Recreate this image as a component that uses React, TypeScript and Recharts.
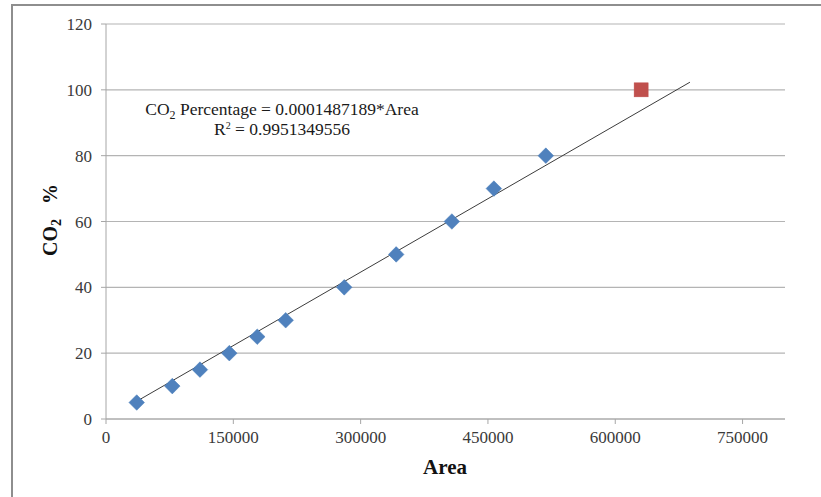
import React from "react";
import {
  ScatterChart,
  Scatter,
  XAxis,
  YAxis,
  CartesianGrid,
  ReferenceLine,
} from "recharts";

// Calibration samples: peak area vs CO2 percentage
const areaValues = [36200, 78100, 110700, 145300, 178200, 211700, 280700, 341900, 407500, 457000, 518200];
const co2Values = [5, 10, 15, 20, 25, 30, 40, 50, 60, 70, 80];

// Single check sample
const checkArea = [630500];
const checkCo2 = [100];

// Regression through origin
const slope = 0.0001487189;
const rSquared = "0.9951349556";
const trendRange = [36200, 688000];

const xTicks = [0, 150000, 300000, 450000, 600000, 750000];
const yTicks = [0, 20, 40, 60, 80, 100, 120];

const calibration = areaValues.map((a, i) => ({ area: a, co2: co2Values[i] }));
const check = checkArea.map((a, i) => ({ area: a, co2: checkCo2[i] }));

const FONT = "'Liberation Serif', 'Times New Roman', serif";

const Diamond = (props: any) => {
  const { cx, cy } = props;
  const r = 7.8;
  return (
    <polygon
      points={`${cx},${cy - r} ${cx + r},${cy} ${cx},${cy + r} ${cx - r},${cy}`}
      fill="#4F81BD"
      stroke="#4A7EBB"
      strokeWidth={0.5}
    />
  );
};

const Square = (props: any) => {
  const { cx, cy } = props;
  const h = 7;
  return <rect x={cx - h} y={cy - h} width={2 * h} height={2 * h} fill="#C0504D" stroke="#BE4B48" strokeWidth={0.5} />;
};

const XTick = (props: any) => {
  const { x, y, payload } = props;
  return (
    <text x={x} y={y + 13} textAnchor="middle" fontFamily={FONT} fontSize={17} fill="#3a3a3a">
      {payload.value}
    </text>
  );
};

const YTick = (props: any) => {
  const { x, y, payload } = props;
  return (
    <text x={x} y={y + 6} textAnchor="end" fontFamily={FONT} fontSize={17} fill="#3a3a3a">
      {payload.value}
    </text>
  );
};

export default function App() {
  return (
    <div style={{ position: "absolute", left: 0, top: 0, width: 821, height: 497, background: "#fff" }}>
      <div
        style={{
          position: "absolute",
          left: 11,
          top: 4,
          width: 810,
          height: 493,
          borderTop: "2px solid #8e8e8e",
          borderLeft: "2px solid #8e8e8e",
          boxSizing: "border-box",
        }}
      />
      <div style={{ position: "absolute", left: 0, top: 0 }}>
        <ScatterChart width={821} height={497} margin={{ top: 24, right: 36, left: 0, bottom: 0 }}>
          <CartesianGrid vertical={false} stroke="#b4b4b4" strokeWidth={1.2} />
          <XAxis
            type="number"
            dataKey="area"
            domain={[0, 800000]}
            ticks={xTicks}
            interval={0}
            height={78}
            tickSize={5}
            tickMargin={6}
            stroke="#a6a6a6"
            tick={<XTick />}
          />
          <YAxis
            type="number"
            dataKey="co2"
            domain={[0, 120]}
            ticks={yTicks}
            interval={0}
            width={106}
            tickSize={5}
            tickMargin={9}
            stroke="#a6a6a6"
            tick={<YTick />}
          />
          <ReferenceLine
            segment={[
              { x: trendRange[0], y: slope * trendRange[0] },
              { x: trendRange[1], y: slope * trendRange[1] },
            ]}
            stroke="#3c3c3c"
            strokeWidth={1}
            ifOverflow="visible"
          />
          <Scatter data={calibration} shape={Diamond} isAnimationActive={false} />
          <Scatter data={check} shape={Square} isAnimationActive={false} />
          <text x={282} y={115} textAnchor="middle" fontFamily={FONT} fontSize={17.5} fill="#1a1a1a">
            CO
            <tspan fontSize={12} dy={4}>2</tspan>
            <tspan dy={-4}>{` Percentage = ${slope}*Area`}</tspan>
          </text>
          <text x={282} y={135} textAnchor="middle" fontFamily={FONT} fontSize={17.5} fill="#1a1a1a">
            R
            <tspan fontSize={10} dy={-6}>2</tspan>
            <tspan dy={6}>{` = ${rSquared}`}</tspan>
          </text>
          <text x={445} y={474} textAnchor="middle" fontFamily={FONT} fontSize={21} fontWeight="bold" fill="#111">
            Area
          </text>
          <text
            x={0}
            y={0}
            transform="translate(57,220) rotate(-90)"
            textAnchor="middle"
            fontFamily={FONT}
            fontSize={20}
            fontWeight="bold"
            fill="#111"
          >
            CO
            <tspan fontSize={14} dy={4}>2</tspan>
            <tspan dy={-4}>{"\u00a0\u00a0\u00a0%"}</tspan>
          </text>
        </ScatterChart>
      </div>
    </div>
  );
}
